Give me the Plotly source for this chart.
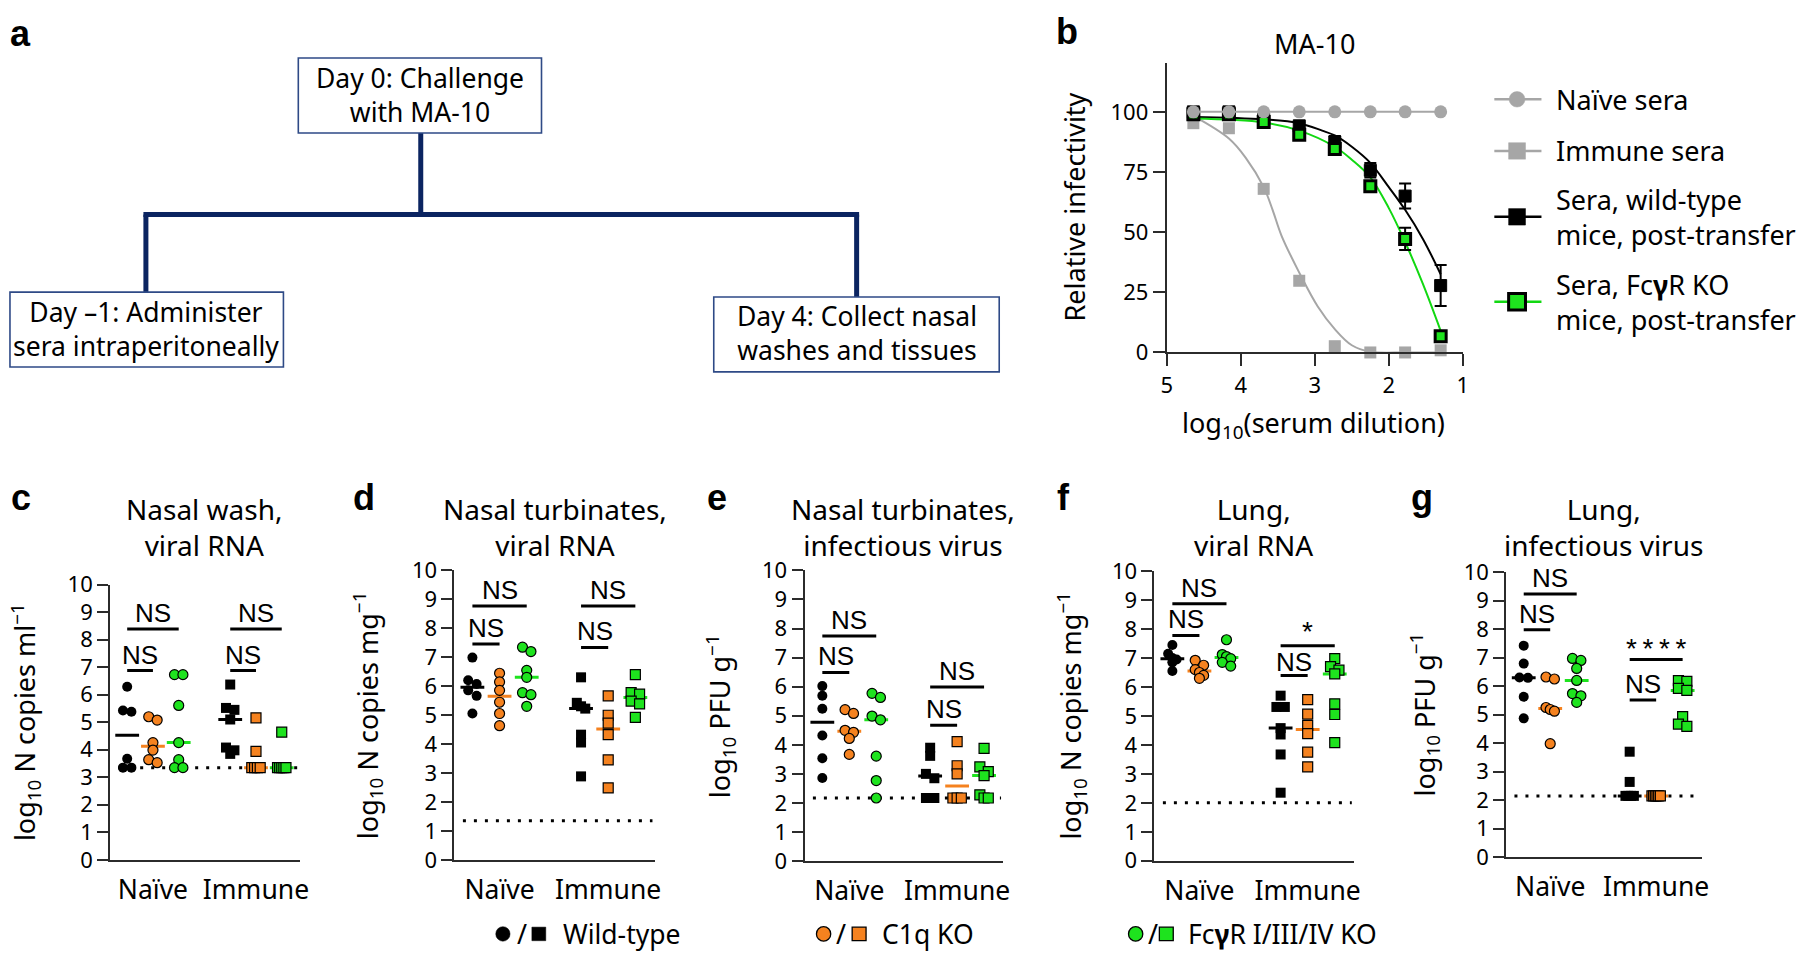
import numpy as np
import plotly.graph_objects as go

W, H = 1800, 961
FONT = "Noto Sans, Open Sans, Liberation Sans, sans-serif"
BOLDFONT = "Liberation Sans, Arial, sans-serif"

# ---------------- panel b data ----------------
dilution_log10 = [4.64, 4.16, 3.69, 3.21, 2.73, 2.25, 1.78, 1.30]
naive_sera = [100, 100, 100, 100, 100, 100, 100, 100]
immune_sera = [95.3, 93.2, 68.0, 29.8, 2.6, 0.0, 0.0, 0.9]
wt_post = [100, 100, 96.9, 94.2, 87.5, 75.7, 65.0, 27.8]
wt_post_err = [0, 0, 1.0, 1.5, 2.5, 3.0, 5.2, 8.5]
fcgr_post = [99, 99, 95.8, 90.5, 84.6, 69.1, 47.2, 6.7]
fcgr_post_err = [0, 0, 1.0, 1.0, 1.5, 2.0, 4.6, 1.0]

# fitted curves
immune_fit_x = [4.64, 4.16, 3.93, 3.69, 3.57, 3.45, 3.21, 2.96, 2.73, 2.50, 2.25, 1.78, 1.30]
immune_fit_y = [98.3, 88.9, 80.8, 68.7, 59.3, 48.6, 33.2, 19.1, 9.7, 3.0, 0.3, 0.0, 0.0]
wt_fit_x = [4.64, 3.69, 3.21, 2.90, 2.73, 2.50, 2.25, 2.00, 1.78, 1.54, 1.30]
wt_fit_y = [97.9, 96.9, 95.3, 92.2, 90.2, 85.5, 78.8, 68.7, 59.3, 47.2, 32.5]
fcgr_fit_x = [4.64, 3.69, 3.21, 2.73, 2.50, 2.25, 2.00, 1.78, 1.54, 1.30]
fcgr_fit_y = [97.2, 95.6, 92.2, 85.5, 80.1, 72.8, 60.0, 45.9, 28.5, 9.0]

b_xticks = [5, 4, 3, 2, 1]
b_yticks = [0, 25, 50, 75, 100]

# ---------------- panels c-g data ----------------
groups = ["Naïve", "Immune"]
genotypes = ["Wild-type", "C1q KO", "FcγR I/III/IV KO"]

c_naive_wt = [6.29, 5.43, 5.38, 3.67, 3.35, 3.35]
c_naive_c1q = [5.20, 5.08, 4.26, 3.99, 3.64, 3.53]
c_naive_fcgr = [6.73, 6.73, 5.61, 4.26, 3.64, 3.35, 3.35]
c_immune_wt = [6.37, 5.52, 5.45, 5.10, 4.08, 3.98, 3.85]
c_immune_c1q = [5.16, 3.94, 3.35, 3.35, 3.35, 3.35]
c_immune_fcgr = [4.64, 3.35, 3.35, 3.35, 3.35, 3.35]
c_lod = 3.35

d_naive_wt = [6.98, 6.20, 6.07, 5.85, 5.66, 5.05]
d_naive_c1q = [6.44, 6.14, 5.85, 5.44, 5.05, 4.63]
d_naive_fcgr = [7.34, 7.19, 6.54, 6.30, 5.77, 5.70, 5.30]
d_immune_wt = [6.30, 5.42, 5.30, 5.22, 4.32, 4.05, 2.88]
d_immune_c1q = [5.66, 4.99, 4.72, 4.32, 3.45, 2.48]
d_immune_fcgr = [6.39, 5.77, 5.72, 5.48, 5.38, 4.92]
d_lod = 1.35

e_naive_wt = [6.02, 5.69, 5.24, 4.32, 3.54, 2.86]
e_naive_c1q = [5.21, 5.08, 4.50, 4.43, 4.22, 3.67]
e_naive_fcgr = [5.77, 5.63, 4.99, 4.86, 3.61, 2.77, 2.17]
e_immune_wt = [3.90, 3.62, 3.00, 2.85, 2.17, 2.17]
e_immune_c1q = [4.11, 3.28, 3.00, 2.17, 2.17, 2.17]
e_immune_fcgr = [3.88, 3.24, 3.08, 2.94, 2.28, 2.17, 2.17]
e_lod = 2.17

f_naive_wt = [7.45, 7.15, 7.00, 6.95, 6.85, 6.55]
f_naive_c1q = [6.92, 6.75, 6.60, 6.50, 6.40, 6.30]
f_naive_fcgr = [7.63, 7.12, 7.05, 6.98, 6.85, 6.72]
f_immune_wt = [5.70, 5.31, 5.31, 4.58, 4.36, 3.67, 2.35]
f_immune_c1q = [5.56, 5.06, 4.67, 4.39, 3.75, 3.24]
f_immune_fcgr = [6.98, 6.70, 6.58, 6.45, 5.42, 5.05, 4.08]
f_lod = 2.0

g_naive_wt = [7.42, 6.79, 6.30, 6.29, 5.63, 4.87]
g_naive_c1q = [6.32, 6.25, 5.25, 5.18, 5.12, 3.98]
g_naive_fcgr = [6.97, 6.90, 6.62, 6.20, 5.74, 5.66, 5.43]
g_immune_wt = [3.70, 2.64, 2.15, 2.15, 2.15, 2.15]
g_immune_c1q = [2.15, 2.15, 2.15, 2.15, 2.15, 2.15]
g_immune_fcgr = [6.19, 6.17, 5.92, 5.85, 4.93, 4.67, 4.59]
g_lod = 2.15

# significance labels: (panel, first column, last column, bracket height, label)
stats = [
    ("c", 1, 3, 8.39, "NS"), ("c", 1, 2, 6.88, "NS"), ("c", 5, 7, 8.39, "NS"), ("c", 5, 6, 6.88, "NS"),
    ("d", 1, 3, 8.76, "NS"), ("d", 1, 2, 7.45, "NS"), ("d", 5, 7, 8.76, "NS"), ("d", 5, 6, 7.33, "NS"),
    ("e", 1, 3, 7.74, "NS"), ("e", 1, 2, 6.49, "NS"), ("e", 5, 7, 5.99, "NS"), ("e", 5, 6, 4.67, "NS"),
    ("f", 1, 3, 8.87, "NS"), ("f", 1, 2, 7.78, "NS"), ("f", 5, 7, 7.42, "*"), ("f", 5, 6, 6.40, "NS"),
    ("g", 1, 3, 9.23, "NS"), ("g", 1, 2, 7.98, "NS"), ("g", 5, 7, 6.93, "*\u2009*\u2009*\u2009*"), ("g", 5, 6, 5.51, "NS"),
]

# ---------------- styling / layout ----------------
BLACK = "#000000"
ORANGE = "#F5821F"
GREEN = "#1EE31E"
GRAY = "#A6A6A6"
NAVY = "#0B2461"
AX = "#2b2b2b"


def px(x):
    return x / W


def py(y):
    return 1 - y / H


fig = go.Figure()
shapes = []
anns = []


def text(x, y, s, size=27, bold=False, angle=0, xanchor="center", align="center"):
    if isinstance(s, (list, tuple)):
        s = "<br>".join(s)
    anns.append(dict(xref="paper", yref="paper", x=px(x), y=py(y),
                     text=(f"<b>{s}</b>" if bold else s), showarrow=False, align=align,
                     xanchor=xanchor, yanchor="middle", textangle=angle,
                     font=dict(size=size, family=(BOLDFONT if bold else FONT), color="black")))


# ---------- panel a (diagram) ----------
text(14.3, 18, "a", size=36, bold=True)
box_line = dict(color="#2E4A86", width=1.6)
for (x0, y0, x1, y1) in [(294.6, 43.3, 539.7, 120.7), (4, 285, 279.6, 362.3), (713.3, 290, 1001, 367.3)]:
    shapes.append(dict(type="rect", xref="paper", yref="paper", x0=px(x0), x1=px(x1),
                       y0=py(y1), y1=py(y0), line=box_line, fillcolor="white", layer="above"))
conn = dict(color=NAVY, width=5)
for (x0, y0, x1, y1) in [(418, 120.7, 418, 205), (138.5, 205, 859.8, 205), (141, 205, 141, 285), (857.3, 205, 857.3, 290)]:
    shapes.append(dict(type="line", xref="paper", yref="paper", x0=px(x0), x1=px(x1),
                       y0=py(y0), y1=py(y1), line=conn, layer="below"))
text(417, 81.2, ["Day 0: Challenge", "with MA-10"], size=26.5)
text(141.6, 322.8, ["Day –1: Administer", "sera intraperitoneally"], size=26.5)
text(857.3, 327.2, ["Day 4: Collect nasal", "washes and tissues"], size=26.5)

# ---------- panel b ----------
B = dict(x0=1169.8, x1=1468.3, ytop=48.3, ybot=347.3)
layout_axes = {}
tickfont = dict(size=22, family=FONT, color="black")
layout_axes["xaxis"] = dict(domain=[px(B["x0"]), px(B["x1"])], range=[5, 1], tickvals=b_xticks,
                            ticks="outside", ticklen=12, tickwidth=2, tickcolor=AX, showline=True,
                            linecolor=AX, linewidth=2, showgrid=False, zeroline=False,
                            tickfont=tickfont, anchor="y", fixedrange=True)
layout_axes["yaxis"] = dict(domain=[py(B["ybot"]), py(B["ytop"])], range=[0, 120.4], tickvals=b_yticks,
                            ticks="outside", ticklen=12, tickwidth=2, tickcolor=AX, showline=True,
                            linecolor=AX, linewidth=2, showgrid=False, zeroline=False,
                            tickfont=tickfont, anchor="x", fixedrange=True)

fig.add_trace(go.Scatter(x=immune_fit_x, y=immune_fit_y, mode="lines", line=dict(color=GRAY, width=2, shape="spline"),
                         xaxis="x", yaxis="y", cliponaxis=False))
fig.add_trace(go.Scatter(x=wt_fit_x, y=wt_fit_y, mode="lines", line=dict(color=BLACK, width=2, shape="spline"),
                         xaxis="x", yaxis="y", cliponaxis=False))
fig.add_trace(go.Scatter(x=fcgr_fit_x, y=fcgr_fit_y, mode="lines", line=dict(color="#12D812", width=2, shape="spline"),
                         xaxis="x", yaxis="y", cliponaxis=False))
fig.add_trace(go.Scatter(x=dilution_log10, y=immune_sera, mode="markers",
                         marker=dict(symbol="square", size=12, color=GRAY), xaxis="x", yaxis="y", cliponaxis=False))
fig.add_trace(go.Scatter(x=dilution_log10, y=wt_post, mode="markers",
                         marker=dict(symbol="square", size=12, color=BLACK, line=dict(color=BLACK, width=1)),
                         error_y=dict(type="data", array=wt_post_err, color=BLACK, thickness=2, width=6),
                         xaxis="x", yaxis="y", cliponaxis=False))
fig.add_trace(go.Scatter(x=dilution_log10, y=fcgr_post, mode="markers",
                         marker=dict(symbol="square", size=11, color=GREEN, line=dict(color=BLACK, width=3)),
                         error_y=dict(type="data", array=fcgr_post_err, color=BLACK, thickness=2, width=6),
                         xaxis="x", yaxis="y", cliponaxis=False))
fig.add_trace(go.Scatter(x=dilution_log10, y=naive_sera, mode="lines+markers",
                         line=dict(color=GRAY, width=2), marker=dict(symbol="circle", size=13, color=GRAY),
                         xaxis="x", yaxis="y", cliponaxis=False))

text(1069, 16, "b", size=36, bold=True)
text(1319, 28.3, "MA-10")
text(1077, 197, "Relative infectivity", size=27, angle=-90)
text(1318, 421.5, "log<sub>10</sub>(serum dilution)")

# legend for b
LX0, LX1, LM, LT = 1500, 1547.5, 1522.9, 1560
leg_rows = [
    (86, GRAY, "circle", GRAY, 0, ["Naïve sera"]),
    (139.3, GRAY, "square", GRAY, 0, ["Immune sera"]),
    (207.3, BLACK, "square", BLACK, 0, ["Sera, wild-type", "mice, post-transfer"]),
    (295, "#12D812", "square", GREEN, 3, ["Sera, Fc<b>γ</b>R KO", "mice, post-transfer"]),
]
for (yy, lc, sym, fc, bw, lines) in leg_rows:
    shapes.append(dict(type="line", xref="paper", yref="paper", x0=px(LX0), x1=px(LX1), y0=py(yy), y1=py(yy),
                       line=dict(color=lc, width=2.5)))
    r = 8 if sym == "circle" else 8.5
    shapes.append(dict(type=("circle" if sym == "circle" else "rect"), xref="paper", yref="paper",
                       x0=px(LM - r), x1=px(LM + r), y0=py(yy + r), y1=py(yy - r), fillcolor=fc,
                       line=dict(color=(BLACK if bw else fc), width=(bw if bw else 0.5))))
    text(LT, yy, lines, size=27, xanchor="left", align="left")

# ---------- panels c-g ----------
panels = {
    "c": dict(x0=105, x1=296.6, ytop=587, ybot=871),
    "d": dict(x0=452, x1=654, ytop=572, ybot=871),
    "e": dict(x0=804.8, x1=1005.3, ytop=572.3, ybot=872.3),
    "f": dict(x0=1157.5, x1=1358.8, ytop=573, ybot=872),
    "g": dict(x0=1512, x1=1709, ytop=574, ybot=868.3),
}
panel_data = {
    "c": ([c_naive_wt, c_naive_c1q, c_naive_fcgr, c_immune_wt, c_immune_c1q, c_immune_fcgr], c_lod),
    "d": ([d_naive_wt, d_naive_c1q, d_naive_fcgr, d_immune_wt, d_immune_c1q, d_immune_fcgr], d_lod),
    "e": ([e_naive_wt, e_naive_c1q, e_naive_fcgr, e_immune_wt, e_immune_c1q, e_immune_fcgr], e_lod),
    "f": ([f_naive_wt, f_naive_c1q, f_naive_fcgr, f_immune_wt, f_immune_c1q, f_immune_fcgr], f_lod),
    "g": ([g_naive_wt, g_naive_c1q, g_naive_fcgr, g_immune_wt, g_immune_c1q, g_immune_fcgr], g_lod),
}
titles = {
    "c": (200, ["Nasal wash,", "viral RNA"], "log<sub>10</sub> N copies ml<sup>−1</sup>", 19),
    "d": (553, ["Nasal turbinates,", "viral RNA"], "log<sub>10</sub> N copies mg<sup>−1</sup>", 365),
    "e": (904.5, ["Nasal turbinates,", "infectious virus"], "log<sub>10</sub> PFU g<sup>−1</sup>", 720),
    "f": (1257, ["Lung,", "viral RNA"], "log<sub>10</sub> N copies mg<sup>−1</sup>", 1074),
    "g": (1610, ["Lung,", "infectious virus"], "log<sub>10</sub> PFU g<sup>−1</sup>", 1430),
}
letter_x = {"c": 15, "d": 361, "e": 717, "f": 1065.6, "g": 1427}
XR = [0.34, 7.72]
cols = [1, 2, 3, 5, 6, 7]
col_colors = [BLACK, ORANGE, GREEN, BLACK, ORANGE, GREEN]
col_symbols = ["circle", "circle", "circle", "square", "square", "square"]


def swarm(values, center, xpx, ypx, d=10.0):
    vals = np.asarray(values, dtype=float)
    order = np.argsort(-vals, kind="stable")
    xs = np.zeros(len(vals))
    rows = []
    for i in order:
        if rows and abs(vals[rows[-1][0]] - vals[i]) * ypx < 0.6 * d:
            rows[-1].append(i)
        else:
            rows.append([i])
    for r in rows:
        n = len(r)
        if n == 1:
            continue
        step = min(0.9 * d, 8.5 / (n - 1))
        for k, i in enumerate(r):
            xs[i] = (k - (n - 1) / 2) * step / xpx
    return center + xs


for idx, key in enumerate(["c", "d", "e", "f", "g"]):
    n = idx + 2
    P = panels[key]
    xa, ya = f"x{n}", f"y{n}"
    xpx = (P["x1"] - P["x0"]) / (XR[1] - XR[0])
    ypx = (P["ybot"] - P["ytop"]) / 10.0
    layout_axes[f"xaxis{n}"] = dict(domain=[px(P["x0"]), px(P["x1"])], range=XR, tickvals=[2, 6],
                                    ticktext=groups, ticks="", showline=True, linecolor=AX, linewidth=2,
                                    showgrid=False, zeroline=False, anchor=ya, fixedrange=True,
                                    tickfont=dict(size=26.5, family=FONT, color="black"), ticklabelstandoff=5)
    layout_axes[f"yaxis{n}"] = dict(domain=[py(P["ybot"]), py(P["ytop"])], range=[0, 10],
                                    tickvals=list(range(11)), ticks="outside", ticklen=11, tickwidth=2,
                                    tickcolor=AX, showline=True, linecolor=AX, linewidth=2, showgrid=False,
                                    zeroline=False, anchor=xa, fixedrange=True, tickfont=tickfont)
    series, lod = panel_data[key]
    # LOD dotted line
    shapes.append(dict(type="line", xref=xa, yref=ya, x0=0.65, x1=7.63, y0=lod, y1=lod, layer="below",
                       line=dict(color=BLACK, width=3, dash="3px,8px")))
    # median bars (under the points)
    for c, vals, colr in zip(cols, series, col_colors):
        fig.add_trace(go.Scatter(x=[c], y=[float(np.median(vals))], mode="markers", xaxis=xa, yaxis=ya,
                                 marker=dict(symbol="line-ew", size=17, line=dict(color=colr, width=3))))
    for c, vals, colr, sym in zip(cols, series, col_colors, col_symbols):
        xs = swarm(vals, c, xpx, ypx)
        fig.add_trace(go.Scatter(x=xs, y=vals, mode="markers", xaxis=xa, yaxis=ya, cliponaxis=False,
                                 marker=dict(symbol=sym, size=10, color=colr,
                                             line=dict(color=BLACK, width=(0 if colr == BLACK else 1.2)))))
    # titles and labels
    tx, tlines, ytitle, ytx = titles[key]
    text(tx, 527.5, tlines, size=28)
    text(ytx, (P["ytop"] + P["ybot"]) / 2, ytitle, size=27, angle=-90)
    text(letter_x[key], 497, key, size=36, bold=True)

# significance brackets
starred = {k for (k, a, b, yv, lab) in stats if lab == "*"}
for (key, a, b, yv, lab) in stats:
    n = ["c", "d", "e", "f", "g"].index(key) + 2
    xa, ya = f"x{n}", f"y{n}"
    shapes.append(dict(type="line", xref=xa, yref=ya, x0=a, x1=b, y0=yv, y1=yv,
                       line=dict(color=BLACK, width=3)))
    if lab == "NS":
        # the NS right under a single star sits a touch closer to its bar
        shift = 13.5 if (key in starred and a == 5) else 16
        fsize = 26
    elif lab == "*":
        shift, fsize = 14.6, 28
    else:
        shift, fsize = 11, 28
    anns.append(dict(xref=xa, yref=ya, x=(a + b) / 2, y=yv, yshift=shift, text=lab, showarrow=False,
                     xanchor="center", yanchor="middle",
                     font=dict(size=fsize, family=BOLDFONT, color="black")))

# bottom legend
LY = 947.5
leg_items = [
    (500.8, 520, 537, 559.5, BLACK, 0, genotypes[0]),
    (824, 842, 859.8, 880.7, ORANGE, 1.3, genotypes[1]),
    (1138.5, 1156, 1169.4, 1189.2, GREEN, 1.3, "Fc<b>γ</b>R I/III/IV KO"),
]
for (cx, sx, qx, tx, colr, lw, lab) in leg_items:
    shapes.append(dict(type="circle", xref="paper", yref="paper", x0=px(cx - 7.2), x1=px(cx + 7.2),
                       y0=py(LY + 7.5), y1=py(LY - 7.5), fillcolor=colr,
                       line=dict(color=BLACK, width=(lw if lw else 0.5))))
    shapes.append(dict(type="rect", xref="paper", yref="paper", x0=px(qx - 7), x1=px(qx + 7),
                       y0=py(LY + 7), y1=py(LY - 7), fillcolor=colr,
                       line=dict(color=BLACK, width=(lw if lw else 0.5))))
    text(sx, LY, "/", size=27)
    text(tx, LY, lab, size=26.5, xanchor="left")

fig.update_layout(width=W, height=H, margin=dict(l=0, r=0, t=0, b=0), paper_bgcolor="white",
                  plot_bgcolor="rgba(0,0,0,0)", showlegend=False, font=dict(family=FONT, color="black"),
                  shapes=shapes, annotations=anns, **layout_axes)

# pin the figure to the page's top-left corner (no browser body margin)
pin = ("document.documentElement.style.margin='0';document.documentElement.style.padding='0';"
       "document.body.style.margin='0';document.body.style.padding='0';document.body.style.overflow='hidden';"
       "var gd=document.getElementById('{plot_id}');gd.style.position='absolute';"
       "gd.style.left='0px';gd.style.top='0px';")
fig.write_html("out.html", config={"displayModeBar": False}, post_script=pin)
